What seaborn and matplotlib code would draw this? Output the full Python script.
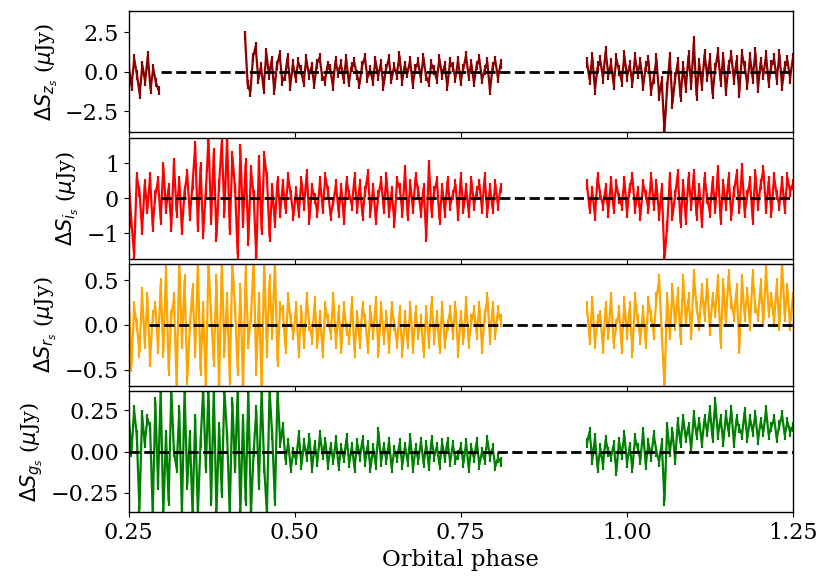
import numpy as np
import pandas as pd
import matplotlib
matplotlib.use("Agg")
import matplotlib.pyplot as plt
import seaborn as sns

# ---------------- data (µJy residuals) ----------------
# z band
z_a_range = (0.25, 0.295)
z_a = [0.3, -0.9, 0.8, -0.2, -1.4, 0.4, -0.6, 1.0, -1.1, 0.2, -0.7, -1.2]
z_b_range = (0.425, 0.81)
z_b = [2.3, -0.8, -1.3, 0.9, 1.6, -0.5, 0.3, -1.1, 1.2, -0.2, 0.7, -1.2, 0.4, 1.1, -0.6,
       -0.3, 0.9, -0.9, 0.5,
       -0.4, 0.6, 0.1, -0.7, 0.8, -0.2, 0.3, -0.8, 0.5, 0.9, -0.3, -0.6, 0.4, 0.2, -0.9,
       0.7, -0.1, 0.5, -0.5, 0.8, -0.7, 0.3, 0.6, -0.2, -0.8, 0.4, 0.9, -0.4, 0.1, -0.6,
       0.7, -0.3, 0.5, -0.9, 0.2, 0.8, -0.5, 0.3, -0.2, 1.0, -0.6, 0.4, -0.1, 0.7, -0.8,
       0.2, 0.6, -0.4, 0.9, -0.3, -0.7, 0.5, 0.1, -0.5, 0.8, -0.2, 0.4, -0.9, 0.6, 0.3,
       -0.4, 0.7, -0.6, 0.2, 1.0, -0.3, 0.5, -0.7, 0.4, 0.8, -0.5, 0.1, 0.6, -1.2, 0.3,
       0.7, -0.4, 0.5]
z_c_range = (0.94, 1.25)
z_c = [0.6, -0.5, 0.9, -1.1, 0.3, 0.7, -0.4, 1.3, -0.2, 0.5, -0.8, 0.8, 0.1, -0.6, 1.0,
       -0.3, 0.4, -0.7, 0.9, -0.1, 0.6, -0.9, 0.3, 0.7, -1.2, -0.4, 0.8, -1.5,
       -0.6, -3.8, -1.0, 0.9, -2.0, -0.4, 0.6, -1.6, 0.3, -1.0, 1.0, -0.8,
       1.9, -1.5, 0.5, -0.9, 1.1, -0.3, 0.8, -1.4, 0.2, 1.2, -0.6, 0.9, -1.2, 0.4, 1.0,
       -0.5, 0.7, -1.3, 1.1, 0.3, -0.8, 0.9, -0.4, 1.2, -1.0, 0.6, -0.2, 1.0, -0.7, 0.4,
       0.8, -0.5, 1.1, -0.9, 0.3, 0.7, -0.4, 0.8]
z_err = [0.3, 0.3, 0.35]

# i band
i_a_range = (0.25, 0.81)
i_a = [0.5, -0.7, -1.6, 0.6, 0.2, -0.9, 0.4, -0.3, 0.6, -0.8, 0.1, 0.5,
       -0.6, 0.9, -0.3, 0.3, -0.8, 1.0, -0.4, 0.5, -0.9, 0.2, 0.7, -0.5, 0.4,
       1.5, -0.8, 0.9, -1.0, 0.2, 1.7, -0.6, 1.3, -1.1, 0.4, 1.6, -0.4,
       1.7, -0.9, 1.2, 0.3, -1.6, 1.4, -0.7, 1.0, -1.2, 0.8, 0.1, -1.7, 1.1,
       -0.9, 1.2, 0.6, -1.1, 0.3, -0.7, 0.5, -0.4,
       0.4, -0.3, 0.6, 0.1, -0.5, 0.2, -0.4, 0.5, -0.2, 0.7, -0.6, 0.3, 0.0, -0.4, 0.5,
       -0.3, 0.6, 0.2, -0.5, -0.1, 0.4, -0.4, 0.3, -0.6, 0.5, 0.1, -0.2, 0.6, -0.3, 0.4,
       -0.5, 0.2, 0.7, -0.4, 0.3, -0.6, 0.1, 0.5, -0.3, 0.6, -0.4, 0.2, -0.7, 0.5, 0.3,
       -0.4, 0.8, -0.5, 0.4, -0.3, 0.6, 0.2, -0.4, 0.3, -1.1, 0.95, -0.4, 0.2, 0.5, -0.6,
       0.3, -0.4, 0.5, -0.2, 0.1, 0.4, -0.5, 0.6, -0.3, 0.3, -0.4, 0.5, -0.2, 0.2, 0.4,
       -0.3, 0.6, -0.4, 0.3, -0.3, 0.4, -0.2, 0.3]
i_b_range = (0.94, 1.25)
i_b = [0.4, -0.3, 0.2, -0.5, 0.6, 0.1, -0.2, 0.3, -0.4, 0.5, -0.3, 0.4, 0.0, -0.2, 0.5,
       -0.4, 0.3, 0.6, -0.3, 0.2, -0.5, 0.4, 0.1, -0.3, 0.6, -0.2, 0.4, -0.5,
       0.3, -1.73,
       -0.8, 0.6, -0.5, 0.1, 0.7, -0.7, 0.4, -0.6, 0.6, -0.2, 0.7, -0.5, 0.3, -0.7, 0.6,
       0.0, -0.4, 0.5, -0.3, 0.8, -0.6, 0.4, -0.2, 0.6, -0.5, 0.2, 0.7, -0.3, 0.85, -0.4,
       0.1, 0.5, -0.6, 0.7, -0.2, 0.4, 0.8, -0.3, 0.5, -0.4, 0.6, 0.1, -0.2, 0.5, -0.3,
       0.6, 0.2, 0.4]
i_err = [0.15, 0.15]

# r band
r_a_range = (0.25, 0.81)
r_a = [0.3, -0.45, 0.2, 0.0, -0.3, 0.35, -0.2, 0.3, -0.4, 0.1, 0.2, -0.25,
       0.45, -0.3, 0.6, -0.5, 0.1, 0.3, -0.68, 0.7, -0.2, 0.5, -0.6, 0.0, 0.4, -0.3, 0.68,
       -0.5, 0.2, -0.68, 0.7, 0.1, -0.4, 0.5, -0.68, 0.7, -0.3, 0.3, -0.6, 0.68, 0.2, -0.5,
       0.4, -0.68, 0.6, -0.2, 0.1, 0.7, -0.5, 0.3, -0.68, 0.7, -0.3, 0.5, -0.1, 0.68, -0.4,
       0.2,
       0.15, -0.25, 0.3, 0.05, -0.1, 0.2, -0.3, 0.15, -0.2, 0.3, 0.0, -0.15, 0.25, -0.2,
       0.1, -0.3, 0.2, 0.05, -0.1, 0.3, -0.2, 0.15, -0.25, 0.2, -0.05, -0.15, 0.25, -0.3,
       0.1, -0.2, 0.2, 0.05, -0.25, 0.15, -0.1, 0.25, -0.3, 0.2, -0.15, 0.1, -0.25, 0.2,
       0.0, -0.2, 0.15, -0.3, 0.1, -0.2, 0.2, -0.25, 0.15, -0.1, 0.05, -0.3, 0.15, -0.2,
       0.25, -0.15, 0.1, -0.25, 0.2, -0.2, 0.0, 0.15, -0.1, 0.2, -0.3, 0.1, -0.15, 0.25,
       -0.2, 0.05, 0.15, -0.1, 0.2, -0.25, 0.1, 0.3, -0.15, 0.2, -0.1, 0.15, 0.05]
r_b_range = (0.94, 1.25)
r_b = [0.2, -0.15, 0.25, -0.2, 0.05, 0.1, -0.25, 0.2, -0.1, 0.3, -0.2, 0.0, 0.15, -0.25,
       0.25, -0.1, 0.2, -0.3, 0.3, 0.05, -0.15, 0.15, -0.2, 0.25, 0.1, -0.1, 0.3, 0.5,
       -0.1, -0.68,
       0.3, -0.1, 0.4, 0.0, 0.35, -0.15, 0.5, 0.05, 0.3, -0.1, 0.55, 0.2, 0.0, 0.4, 0.1,
       0.45, -0.05, 0.3, 0.15, 0.5, -0.2, 0.45, 0.05, 0.55, 0.25, 0.1, 0.4, -0.25, 0.5,
       0.1, 0.35, 0.0, 0.55, 0.2, 0.1, 0.45, 0.05, 0.6, 0.15, 0.3, 0.05, 0.45, 0.0, 0.68,
       0.1, 0.4, 0.0, 0.3]
r_err = [0.07, 0.07]

# g band
g_a_range = (0.25, 0.81)
g_a = [0.2, 0.0, 0.25, 0.1, -0.35, 0.22, 0.05, 0.2, 0.15, -0.37,
       0.3, -0.2, 0.37, -0.37, 0.1, -0.3, 0.37, 0.0, -0.1, 0.25, -0.37, 0.37, -0.2, 0.1,
       -0.37, 0.2, -0.37, 0.05, 0.37, -0.1, 0.37, -0.3, 0.37, -0.37, 0.15, -0.25, 0.37,
       0.1, -0.37, 0.3, -0.1, 0.37, -0.37, 0.2, -0.3, 0.37, -0.37, 0.0, 0.25, -0.2, 0.37,
       -0.1, -0.37, 0.37, 0.1, -0.3, 0.37, 0.05,
       0.15, -0.05, 0.05, -0.1, 0.0, -0.05, 0.1, -0.08, 0.05, -0.03, 0.08, -0.1, 0.04,
       -0.06, 0.1, -0.02, 0.06, -0.08, 0.03, -0.05, 0.07, -0.09, 0.02, -0.04, 0.08, -0.07,
       0.03, -0.1, 0.05, -0.03, 0.07, -0.06, 0.04, -0.1, 0.02, -0.08, 0.12, -0.06, 0.03,
       -0.05, 0.06, -0.1, 0.01, -0.04, 0.05, -0.08, 0.03, -0.06, 0.08, -0.1, 0.02, -0.05,
       0.06, -0.07, 0.04, -0.09, 0.07, -0.03, 0.03, -0.08, 0.05, -0.04, 0.06, -0.06, 0.04,
       -0.05, -0.02, 0.03, -0.07, 0.05, -0.1, 0.02, -0.04, 0.06, -0.08, 0.0, -0.05, 0.07,
       -0.03, 0.02, -0.09, -0.04, -0.06]
g_b_range = (0.94, 1.25)
g_b = [0.05, 0.12, -0.05, 0.08, -0.1, 0.02, -0.08, 0.07, 0.0, -0.03, 0.04, -0.12, 0.06,
       -0.02, 0.1, -0.07, 0.03, -0.1, 0.08, 0.02, -0.05, 0.12, -0.08, 0.05, -0.03, 0.1,
       0.0, -0.06,
       0.05, -0.3,
       0.15, 0.0, 0.12, -0.05, 0.18, 0.05, 0.2, 0.08, 0.15, 0.02, 0.22, 0.1, 0.18, 0.05,
       0.2, 0.12, 0.25, 0.08, 0.3, 0.1, 0.2, 0.06, 0.22, 0.12, 0.25, 0.05, 0.2, 0.14, 0.1,
       0.24, 0.08, 0.2, 0.12, 0.22, 0.07, 0.18, 0.12, 0.25, 0.1, 0.15, 0.2, 0.08, 0.16,
       0.22, 0.1, 0.18, 0.12, 0.15]
g_err = [0.03, 0.03]

bands = ["z", "i", "r", "g"]
colors = ["#8b0000", "#ff0000", "#ffa500", "#008000"]
segments = [
    [(z_a_range, z_a), (z_b_range, z_b), (z_c_range, z_c)],
    [(i_a_range, i_a), (i_b_range, i_b)],
    [(r_a_range, r_a), (r_b_range, r_b)],
    [(g_a_range, g_a), (g_b_range, g_b)],
]
errors = [z_err, i_err, r_err, g_err]
ylims = [3.83, 1.73, 0.675, 0.366]
yticks = [[-2.5, 0.0, 2.5], [-1, 0, 1], [-0.5, 0.0, 0.5], [-0.25, 0.0, 0.25]]
ytick_labels = [["−2.5", "0.0", "2.5"], ["−1", "0", "1"], ["−0.5", "0.0", "0.5"],
                ["−0.25", "0.00", "0.25"]]
zero_start = [0.298, 0.298, 0.28, 0.25]
xticks = [0.25, 0.50, 0.75, 1.00, 1.25]
xtick_labels = ["0.25", "0.50", "0.75", "1.00", "1.25"]

# ---------------- plotting ----------------
sns.set_style("ticks")
plt.rcParams["font.family"] = ["DejaVu Serif"]
plt.rcParams["mathtext.fontset"] = "dejavusans"
for key in ["axes.edgecolor", "xtick.color", "ytick.color", "text.color", "axes.labelcolor"]:
    plt.rcParams[key] = "black"

fig, axes = plt.subplots(4, 1, figsize=(8.31, 5.86), dpi=100, sharex=True)
fig.subplots_adjust(left=0.155, right=0.954, top=0.981, bottom=0.126, hspace=0.046)

for k, ax in enumerate(axes):
    for (seg, err) in zip(segments[k], errors[k]):
        (x0, x1), vals = seg
        df = pd.DataFrame({"phase": np.linspace(x0, x1, len(vals)), "res": vals})
        sns.lineplot(data=df, x="phase", y="res", ax=ax, color=colors[k], lw=1.6,
                     estimator=None, sort=False, legend=False)
        ax.errorbar(df["phase"], df["res"], yerr=err, fmt="none", ecolor=colors[k],
                    elinewidth=1.6, capsize=0)
    ax.hlines(0, zero_start[k], 1.25, colors="black", linestyles="--", lw=2, zorder=5)
    ax.set_xlim(0.25, 1.25)
    ax.set_ylim(-ylims[k], ylims[k])
    ax.set_yticks(yticks[k])
    ax.set_yticklabels(ytick_labels[k])
    ax.set_ylabel(r"$\Delta S_{%s_s}$ ($\mu$Jy)" % bands[k], fontsize=15, labelpad=4)
    ax.set_xlabel("")
    ax.tick_params(labelsize=16, direction="out", length=3.5, width=0.8)
    for s in ax.spines.values():
        s.set_visible(True)
        s.set_linewidth(1.0)
        s.set_color("black")

axes[-1].set_xticks(xticks)
axes[-1].set_xticklabels(xtick_labels)
axes[-1].set_xlabel("Orbital phase", fontsize=16.5)

fig.savefig("out.png", dpi=100)
